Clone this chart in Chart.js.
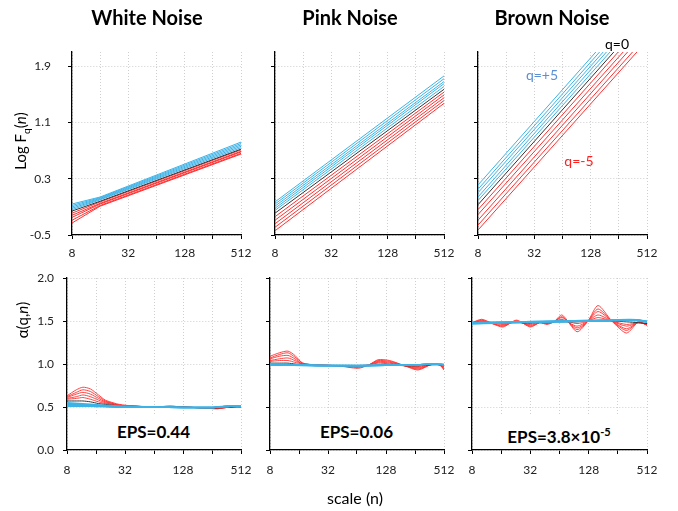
<!DOCTYPE html>
<html>
<head>
<meta charset="utf-8">
<script src="https://cdn.jsdelivr.net/npm/chart.js@4.4.0/dist/chart.umd.min.js"></script>
<style>
body { margin:0; background:#fff; width:678px; height:511px; position:relative; overflow:hidden; font-family:Lato, "Noto Sans", sans-serif; color:#000; }
canvas { position:absolute; z-index:1; }
.txt { position:absolute; z-index:2; transform:translate(-50%,-50%); white-space:nowrap; }
.title { font-weight:bold; font-size:20px; }
.ytitle { font-size:15px; transform:translate(-50%,-50%) rotate(-90deg); }
.eps { position:absolute; z-index:2; background:#fff; font-weight:bold; font-size:17px; text-align:center; height:32px; line-height:32px; }
.eps sup { font-size:11px; }
.note { font-size:14px; }
</style>
</head>
<body>

<div class="txt title" style="left:147px;top:17px">White Noise</div>
<div class="txt title" style="left:350px;top:17px">Pink Noise</div>
<div class="txt title" style="left:552px;top:17px">Brown Noise</div>
<div class="txt ytitle" style="left:21px;top:141px">Log F<sub style="font-size:10px">q</sub>(<i>n</i>)</div>
<div class="txt ytitle" style="left:22px;top:320px">&alpha;(q,<i>n</i>)</div>
<div class="txt" style="left:355px;top:497px;font-size:16px">scale (n)</div>
<div class="txt note" style="left:617px;top:43px">q=0</div>
<div class="txt note" style="left:542px;top:74px;color:#5b8fd6">q=+5</div>
<div class="txt note" style="left:579px;top:160px;color:#ff2020">q=-5</div>
<div class="eps" style="left:69px;top:416px;width:169px">EPS=0.44</div>
<div class="eps" style="left:272px;top:416px;width:169px">EPS=0.06</div>
<div class="eps" style="left:474px;top:416px;width:170px">EPS=3.8&times;10<sup>-5</sup></div>

<script>
// q order used everywhere: +5 ... 0 ... -5
var qNames = ['+5', '+4', '+3', '+2', '+1', '0', '-1', '-2', '-3', '-4', '-5'];
var xTickValues = [8, 16, 32, 64, 128, 256, 512];
var xTickLabels = [8, 32, 128, 512];
var topYTicks = [-0.5, 0.3, 1.1, 1.9];
var bottomYTicks = [0, 0.5, 1.0, 1.5, 2.0];

// ---- top row : Log Fq(n), one value per q ----
var whiteScales = [8, 16, 512];
var whiteLogF8   = [-0.06, -0.08, -0.10, -0.12, -0.14, -0.16, -0.19, -0.22, -0.25, -0.29, -0.33];
var whiteLogF16  = [0.04, 0.03, 0.02, 0.01, 0.00, -0.02, -0.03, -0.05, -0.06, -0.08, -0.09];
var whiteLogF512 = [0.82, 0.80, 0.78, 0.76, 0.74, 0.72, 0.71, 0.69, 0.68, 0.66, 0.65];

var pinkScales = [8, 512];
var pinkLogF8   = [-0.03, -0.06, -0.09, -0.12, -0.15, -0.19, -0.24, -0.29, -0.34, -0.39, -0.44];
var pinkLogF512 = [1.76, 1.72, 1.68, 1.65, 1.61, 1.57, 1.53, 1.49, 1.45, 1.41, 1.37];

var brownScales = [8, 512];
var brownLogF8   = [0.21, 0.15, 0.10, 0.04, -0.01, -0.07, -0.14, -0.21, -0.29, -0.36, -0.43];
var brownLogF512 = [2.92, 2.86, 2.80, 2.75, 2.69, 2.63, 2.56, 2.48, 2.41, 2.33, 2.26];

// ---- bottom row : alpha(q,n) ----
// blue lines q=+5..+1
var blueScales = [8, 14, 28, 64, 128, 256, 400, 512];
var whiteAlphaBlue = [
  [0.51, 0.51, 0.50, 0.50, 0.495, 0.495, 0.515, 0.51],
  [0.52, 0.51, 0.50, 0.50, 0.495, 0.495, 0.51, 0.51],
  [0.53, 0.52, 0.50, 0.50, 0.495, 0.495, 0.51, 0.51],
  [0.54, 0.52, 0.505, 0.50, 0.495, 0.495, 0.51, 0.51],
  [0.55, 0.53, 0.51, 0.50, 0.495, 0.495, 0.51, 0.51]
];
var pinkAlphaBlue = [
  [0.99, 0.985, 0.98, 0.98, 0.985, 0.99, 1.00, 0.99],
  [0.99, 0.985, 0.98, 0.98, 0.985, 0.99, 1.00, 0.99],
  [1.00, 0.99, 0.98, 0.98, 0.985, 0.99, 1.00, 0.99],
  [1.00, 0.99, 0.985, 0.98, 0.985, 0.99, 1.00, 0.995],
  [1.00, 0.99, 0.985, 0.985, 0.985, 0.99, 1.00, 0.995]
];
var brownAlphaBlue = [
  [1.48, 1.485, 1.49, 1.50, 1.505, 1.515, 1.515, 1.495],
  [1.48, 1.485, 1.49, 1.50, 1.505, 1.51, 1.51, 1.495],
  [1.475, 1.48, 1.49, 1.495, 1.50, 1.51, 1.51, 1.49],
  [1.47, 1.48, 1.485, 1.495, 1.50, 1.505, 1.505, 1.49],
  [1.47, 1.475, 1.485, 1.49, 1.50, 1.505, 1.505, 1.485]
];

// black line (q=0) and red lines q=-1..-5, sharing one scale list per panel
var whiteRedScales = [8, 10, 11.7, 14, 17, 20, 24, 28, 40, 64, 94, 128, 200, 290, 400, 512];
var whiteAlphaBlack = [0.57, 0.57, 0.57, 0.56, 0.54, 0.53, 0.52, 0.51, 0.50, 0.50, 0.50, 0.50, 0.49, 0.49, 0.50, 0.51];
var whiteAlphaRed = [
  [0.59, 0.60, 0.61, 0.59, 0.56, 0.54, 0.53, 0.52, 0.51, 0.50, 0.50, 0.50, 0.49, 0.49, 0.50, 0.51],
  [0.60, 0.62, 0.64, 0.62, 0.58, 0.55, 0.53, 0.52, 0.51, 0.50, 0.50, 0.50, 0.49, 0.49, 0.50, 0.51],
  [0.61, 0.65, 0.67, 0.65, 0.60, 0.56, 0.54, 0.52, 0.51, 0.50, 0.505, 0.50, 0.49, 0.485, 0.50, 0.50],
  [0.62, 0.67, 0.70, 0.68, 0.62, 0.57, 0.54, 0.52, 0.51, 0.50, 0.51, 0.50, 0.49, 0.48, 0.50, 0.50],
  [0.63, 0.70, 0.73, 0.71, 0.64, 0.58, 0.55, 0.53, 0.51, 0.50, 0.51, 0.50, 0.49, 0.48, 0.50, 0.50]
];

var pinkRedScales = [8, 10, 12.3, 14.5, 17.5, 24, 40, 66, 85, 106, 140, 200, 275, 390, 460, 512];
var pinkAlphaBlack = [1.01, 1.01, 1.01, 1.00, 0.99, 0.98, 0.98, 0.98, 0.98, 0.99, 0.99, 0.98, 0.98, 0.99, 0.99, 0.98];
var pinkAlphaRed = [
  [1.03, 1.04, 1.04, 1.02, 1.00, 0.99, 0.98, 0.98, 0.99, 1.01, 1.00, 0.98, 0.97, 1.00, 0.99, 0.97],
  [1.04, 1.06, 1.07, 1.04, 1.00, 0.99, 0.98, 0.97, 0.99, 1.02, 1.01, 0.98, 0.96, 1.00, 0.99, 0.96],
  [1.06, 1.09, 1.10, 1.06, 1.00, 0.99, 0.98, 0.97, 0.99, 1.03, 1.02, 0.98, 0.95, 1.00, 0.99, 0.95],
  [1.07, 1.11, 1.13, 1.08, 1.01, 0.99, 0.98, 0.96, 0.99, 1.04, 1.03, 0.98, 0.94, 1.00, 0.99, 0.94],
  [1.09, 1.13, 1.15, 1.10, 1.01, 0.99, 0.98, 0.95, 0.99, 1.05, 1.04, 0.98, 0.93, 1.00, 0.99, 0.93]
];

var brownRedScales = [8, 10.1, 13, 16.7, 23, 32, 40, 47.6, 56, 68, 97, 126, 160, 222, 315, 420, 512];
var brownAlphaBlack = [1.48, 1.48, 1.48, 1.48, 1.48, 1.48, 1.49, 1.49, 1.49, 1.49, 1.49, 1.50, 1.50, 1.50, 1.49, 1.48, 1.47];
var brownAlphaRed = [
  [1.48, 1.49, 1.48, 1.47, 1.49, 1.47, 1.49, 1.48, 1.49, 1.51, 1.47, 1.50, 1.54, 1.50, 1.46, 1.48, 1.46],
  [1.48, 1.50, 1.48, 1.46, 1.49, 1.46, 1.49, 1.48, 1.49, 1.52, 1.44, 1.50, 1.57, 1.50, 1.44, 1.48, 1.46],
  [1.48, 1.50, 1.47, 1.45, 1.50, 1.45, 1.48, 1.47, 1.49, 1.54, 1.42, 1.50, 1.61, 1.50, 1.41, 1.49, 1.46],
  [1.48, 1.51, 1.47, 1.44, 1.50, 1.44, 1.48, 1.47, 1.49, 1.55, 1.40, 1.50, 1.64, 1.50, 1.39, 1.49, 1.45],
  [1.48, 1.52, 1.47, 1.43, 1.51, 1.43, 1.48, 1.46, 1.49, 1.57, 1.375, 1.50, 1.68, 1.50, 1.36, 1.49, 1.45]
];

var BLUE = '#3cb2e6', BLACK = '#333333', RED = '#ff3030';

function toPoints(scales, values) {
  return scales.map(function(s, k) { return {x: s, y: values[k]}; });
}

function qColor(i) {
  return i < 5 ? BLUE : (i == 5 ? BLACK : RED);
}

// top row sets: one column per scale, one entry per q
function topSets(scales, columns) {
  var sets = [];
  qNames.forEach(function(q, i) {
    var vals = columns.map(function(c) { return c[i]; });
    sets.push({label: 'q=' + q, data: toPoints(scales, vals), borderColor: qColor(i), borderWidth: 1});
  });
  return sets;
}

function bottomSets(blue, black, redScales, red) {
  var sets = [];
  blue.forEach(function(v, i) {
    sets.push({label: 'q=' + qNames[i], data: toPoints(blueScales, v), borderColor: BLUE, borderWidth: 1.6});
  });
  sets.push({label: 'q=0', data: toPoints(redScales, black), borderColor: BLACK, borderWidth: 1});
  red.forEach(function(v, i) {
    sets.push({label: 'q=' + qNames[6 + i], data: toPoints(redScales, v), borderColor: RED, borderWidth: 0.9});
  });
  return sets;
}

function makeChart(p, datasets) {
  // fixed axis sizes so the plot area lands where it should
  var yW = p.yLabels ? p.yAxisW : 16;
  var padTop = 30, padRight = 26, xH = 30;
  var cv = document.createElement('canvas');
  cv.width = yW + p.w + padRight;
  cv.height = padTop + p.h + xH;
  cv.style.left = (p.left - yW) + 'px';
  cv.style.top = (p.top - padTop) + 'px';
  document.body.appendChild(cv);

  var tickFont = {family: 'Lato', size: 12};

  new Chart(cv, {
    type: 'line',
    data: {datasets: datasets},
    options: {
      responsive: false,
      animation: false,
      events: [],
      layout: {padding: {top: padTop, right: padRight, left: 0, bottom: 0}},
      plugins: {legend: {display: false}, tooltip: {enabled: false}},
      elements: {point: {radius: 0}, line: {tension: p.tension, fill: false}},
      scales: {
        x: {
          type: 'logarithmic', min: 8, max: 512,
          afterBuildTicks: function(s) { s.ticks = xTickValues.map(function(v) { return {value: v}; }); },
          afterFit: function(s) { s.height = xH; },
          ticks: {
            autoSkip: false, maxRotation: 0, padding: p.xPad, color: '#222', font: tickFont,
            callback: function(v) { return xTickLabels.indexOf(v) >= 0 ? String(v) : ''; }
          },
          grid: {color: '#cfcfcf', tickColor: '#000', tickLength: 4, tickBorderDash: []},
          border: {color: '#000', width: 1.3, dash: [1, 2]}
        },
        y: {
          type: 'linear', min: p.yMin, max: p.yMax,
          afterBuildTicks: function(s) { s.ticks = p.yTicks.map(function(v) { return {value: v}; }); },
          afterFit: function(s) { s.width = yW; },
          ticks: {
            display: p.yLabels, autoSkip: false, padding: p.yPad, color: '#222', font: tickFont,
            callback: function(v) { return Number(v).toFixed(1); }
          },
          grid: {color: '#cfcfcf', tickColor: '#000', tickLength: 4, tickBorderDash: []},
          border: {color: '#000', width: 1.3, dash: [1, 2]}
        }
      }
    }
  });
}

var topBase = {top: 52, h: 183, w: 169, yMin: -0.5, yMax: 2.1, yTicks: topYTicks, yAxisW: 60, yPad: 17, xPad: 7, tension: 0};
var botBase = {top: 278, h: 172, yMin: 0, yMax: 2.0, yTicks: bottomYTicks, yAxisW: 50, yPad: 9, xPad: 9, tension: 0.25};

makeChart(Object.assign({}, topBase, {left: 72, yLabels: true}),
  topSets(whiteScales, [whiteLogF8, whiteLogF16, whiteLogF512]));
makeChart(Object.assign({}, topBase, {left: 275, yLabels: false}),
  topSets(pinkScales, [pinkLogF8, pinkLogF512]));
makeChart(Object.assign({}, topBase, {left: 478, yLabels: false}),
  topSets(brownScales, [brownLogF8, brownLogF512]));

makeChart(Object.assign({}, botBase, {left: 67, w: 174, yLabels: true}),
  bottomSets(whiteAlphaBlue, whiteAlphaBlack, whiteRedScales, whiteAlphaRed));
makeChart(Object.assign({}, botBase, {left: 270, w: 174, yLabels: false}),
  bottomSets(pinkAlphaBlue, pinkAlphaBlack, pinkRedScales, pinkAlphaRed));
makeChart(Object.assign({}, botBase, {left: 472, w: 175, yLabels: false}),
  bottomSets(brownAlphaBlue, brownAlphaBlack, brownRedScales, brownAlphaRed));
</script>
</body>
</html>
